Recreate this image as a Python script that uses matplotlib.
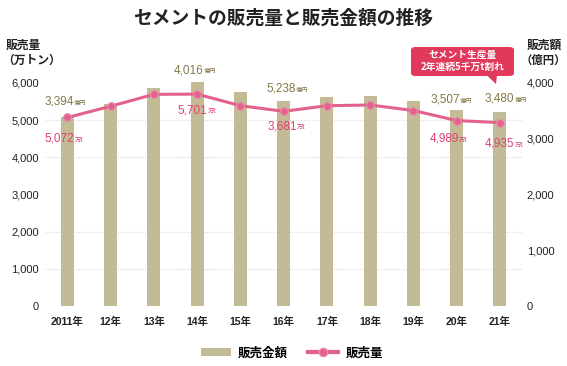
import numpy as np
import matplotlib
matplotlib.use("Agg")
import matplotlib.pyplot as plt
from matplotlib.ticker import MultipleLocator, FuncFormatter
from matplotlib.patches import FancyBboxPatch, Polygon
from matplotlib.lines import Line2D
from matplotlib.patches import Patch

# Datos
anios = ["2011年", "12年", "13年", "14年", "15年", "16年", "17年", "18年", "19年", "20年", "21年"]
venta_importe = [3394, 3620, 3910, 4016, 3833, 3681, 3743, 3772, 3680, 3507, 3480]   # 億円
venta_volumen = [5072, 5376, 5695, 5701, 5389, 5238, 5389, 5408, 5260, 4989, 4935]   # 万トン

idx_etiquetas = [0, 3, 5, 9, 10]
etiquetas_importe = ["3,394", "4,016", "5,238", "3,507", "3,480"]
etiquetas_volumen = ["5,072", "5,701", "3,681", "4,989", "4,935"]

# desplazamientos de las etiquetas (pixeles)
off_importe = [(6, 12), (6, 9), (12, 9), (3, 8), (14, 10)]
off_volumen = [(7, -24), (10, -19), (13, -18), (2, -21), (14, -24)]

COLOR_BARRA = "#c3bb95"
COLOR_LINEA = "#e2628e"
COLOR_TXT_BARRA = "#857847"
COLOR_TXT_LINEA = "#e0406f"
COLOR_CAJA = "#e0395c"
FUENTE_NUM = ["Liberation Sans", "Noto Sans CJK JP"]
FUENTE_JP = ["Noto Sans CJK JP", "DejaVu Sans"]

W, H = 567, 366
fig = plt.figure(figsize=(W / 100, H / 100), dpi=100)
ax = fig.add_axes([45 / W, 1 - 306 / H, (522 - 45) / W, (306 - 83) / H])
ax2 = ax.twinx()
ax.set_zorder(ax2.get_zorder() + 1)
ax.patch.set_visible(False)

x = np.arange(len(anios))

# Barras: importe (eje derecho)
ax2.bar(x, venta_importe, width=0.30, color=COLOR_BARRA, clip_on=False, zorder=2)
ax2.set_ylim(0, 4000)
ax2.yaxis.set_major_locator(MultipleLocator(1000))
ax2.yaxis.set_minor_locator(MultipleLocator(4000 / 6))
ax2.grid(which="minor", axis="y", color="#d8d8d8", linestyle=(0, (1, 1.5)), linewidth=0.8)
ax2.set_axisbelow(True)

# Linea: volumen (eje izquierdo)
ax.plot(x, venta_volumen, color=COLOR_LINEA, linewidth=2.2, marker="o", markersize=5.5,
        markerfacecolor=COLOR_LINEA, markeredgecolor="#ea8aab", markeredgewidth=0.8, zorder=3)
ax.set_ylim(0, 6000)
ax.yaxis.set_major_locator(MultipleLocator(1000))
ax.set_xlim(-0.52, 10.51)
ax.set_xticks(x)
ax.set_xticklabels(anios)

fmt = FuncFormatter(lambda v, p: f"{int(v):,}")
ax.yaxis.set_major_formatter(fmt)
ax2.yaxis.set_major_formatter(fmt)

for a in (ax, ax2):
    for s in a.spines.values():
        s.set_visible(False)
    a.tick_params(which="both", length=0, colors="#222222")

for t in ax.get_yticklabels():
    t.set_family(FUENTE_NUM)
    t.set_fontsize(8)
for t in ax2.get_yticklabels():
    t.set_family(FUENTE_NUM)
    t.set_fontsize(8)
for t in ax.get_xticklabels():
    t.set_family(FUENTE_NUM)
    t.set_fontsize(7.5)
    t.set_fontweight("bold")
ax.tick_params(axis="y", pad=4.5)
ax2.tick_params(axis="y", pad=3.5)
ax.tick_params(axis="x", pad=8)

# Etiquetas de valores
for i, txt, (dx, dy) in zip(idx_etiquetas, etiquetas_importe, off_importe):
    ax2.annotate(txt, (x[i], venta_importe[i]), xytext=(dx, dy), textcoords="offset pixels",
                 ha="right", va="baseline", fontsize=8.5, color=COLOR_TXT_BARRA,
                 family=FUENTE_NUM, annotation_clip=False)
    ax2.annotate("億円", (x[i], venta_importe[i]), xytext=(dx + 0.5, dy), textcoords="offset pixels",
                 ha="left", va="baseline", fontsize=4.5, color=COLOR_TXT_BARRA,
                 family=FUENTE_JP, annotation_clip=False)

for i, txt, (dx, dy) in zip(idx_etiquetas, etiquetas_volumen, off_volumen):
    ax.annotate(txt, (x[i], venta_volumen[i]), xytext=(dx, dy), textcoords="offset pixels",
                ha="right", va="baseline", fontsize=8.5, color=COLOR_TXT_LINEA,
                family=FUENTE_NUM, annotation_clip=False)
    ax.annotate("万t", (x[i], venta_volumen[i]), xytext=(dx + 0.5, dy), textcoords="offset pixels",
                ha="left", va="baseline", fontsize=4.5, color=COLOR_TXT_LINEA,
                family=FUENTE_JP, annotation_clip=False)

# Titulos
fig.text(0.5, 1 - 18 / H, "セメントの販売量と販売金額の推移", ha="center", va="center",
         fontsize=13.5, fontweight="bold", color="#222222", family=FUENTE_JP)
fig.text(6 / W, 1 - 45 / H, "販売量", ha="left", va="center", fontsize=8.5,
         fontweight="bold", color="#222222", family=FUENTE_JP)
fig.text(2 / W, 1 - 60 / H, "（万トン）", ha="left", va="center", fontsize=8.5,
         fontweight="bold", color="#222222", family=FUENTE_JP)
fig.text(527 / W, 1 - 45 / H, "販売額", ha="left", va="center", fontsize=8.5,
         fontweight="bold", color="#222222", family=FUENTE_JP)
fig.text(520 / W, 1 - 60 / H, "（億円）", ha="left", va="center", fontsize=8.2,
         fontweight="bold", color="#222222", family=FUENTE_JP)

# Globo de anotacion
caja = FancyBboxPatch((411 / W, 1 - 76 / H), 103 / W, 29 / H,
                      boxstyle="round,pad=0,rounding_size=0.008",
                      transform=fig.transFigure, fc=COLOR_CAJA, ec="none", zorder=5)
fig.patches.append(caja)
cola = Polygon([(487 / W, 1 - 75.5 / H), (497 / W, 1 - 75.5 / H), (496 / W, 1 - 84 / H)],
               closed=True, transform=fig.transFigure, fc=COLOR_CAJA, ec="none", zorder=5)
fig.patches.append(cola)
fig.text(463 / W, 1 - 55 / H, "セメント生産量", ha="center", va="center", fontsize=7,
         fontweight="bold", color="white", family=FUENTE_JP, zorder=6)
fig.text(463 / W, 1 - 67 / H, "2年連続5千万t割れ", ha="center", va="center", fontsize=7,
         fontweight="bold", color="white", family=FUENTE_JP, zorder=6)

# Leyenda
manejadores = [Patch(facecolor=COLOR_BARRA, edgecolor="none", label="販売金額"),
               Line2D([0], [0], color=COLOR_LINEA, linewidth=3, marker="o", markersize=6,
                      markerfacecolor=COLOR_LINEA, markeredgecolor="#ea8aab", label="販売量")]
fig.legend(handles=manejadores, loc="center", bbox_to_anchor=(292 / W, 1 - 353 / H), ncol=2,
           frameon=False, prop={"family": FUENTE_JP, "size": 9, "weight": "bold"},
           handlelength=2.4, handleheight=0.6, handletextpad=0.6, columnspacing=1.6)

fig.savefig("out.png", dpi=100)
